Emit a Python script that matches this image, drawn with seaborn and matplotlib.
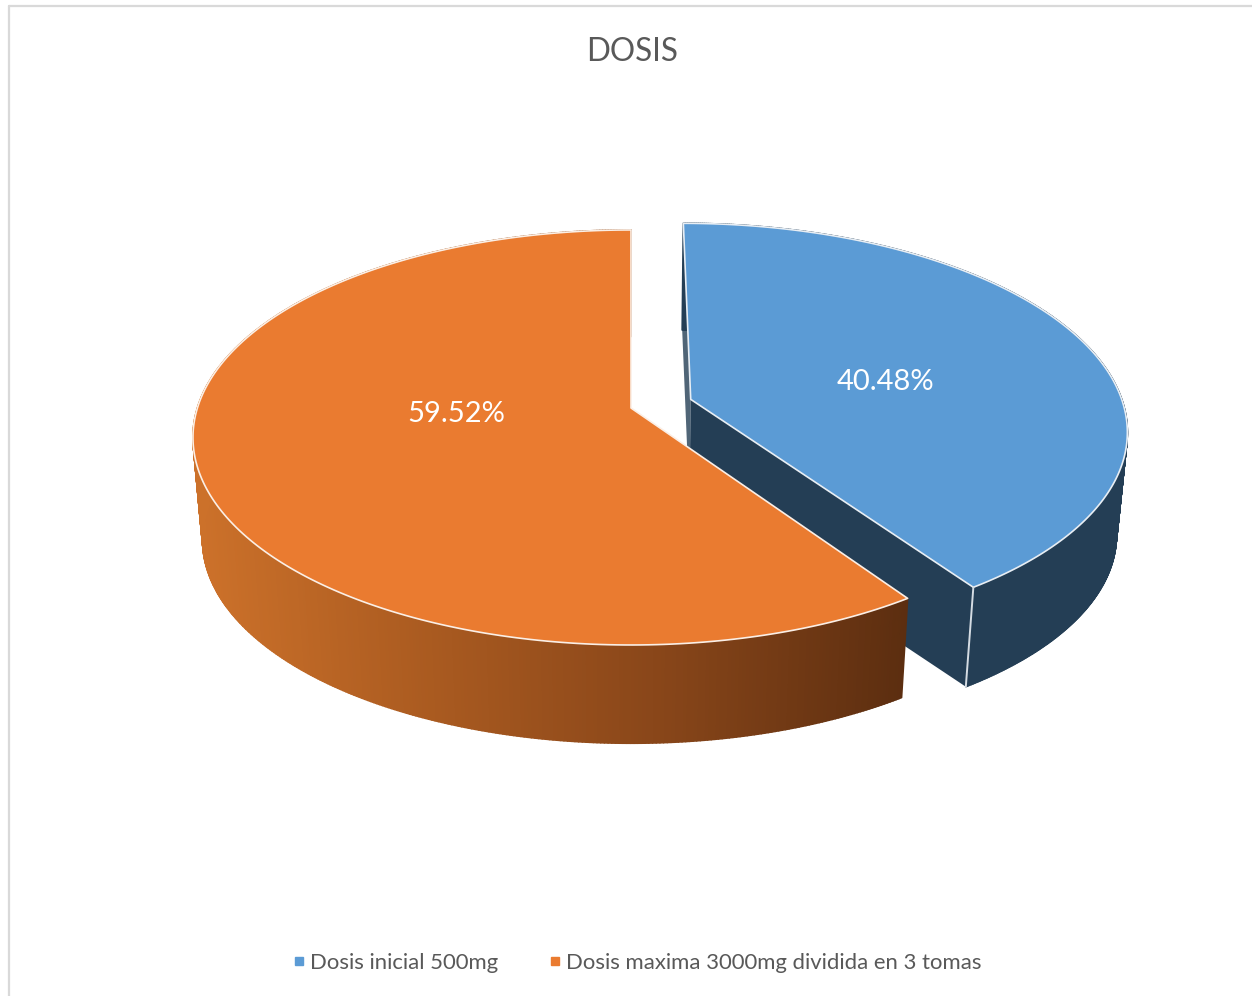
import numpy as np
import matplotlib
matplotlib.use("Agg")
import matplotlib.pyplot as plt
from matplotlib.collections import PolyCollection
from matplotlib.lines import Line2D
from matplotlib.patches import Polygon
import seaborn as sns

# Chart content
chart_title = "DOSIS"
categories = ["Dosis inicial 500mg", "Dosis maxima 3000mg dividida en 3 tomas"]
shares = [40.48, 59.52]
top_colors = ["#5B9BD5", "#EA7B30"]
wall_color = "#243E55"
wall_ramp = ["#CC712A", "#A95A20", "#874519", "#5C2E10"]

sns.set_theme(style="white")
plt.rcParams["font.family"] = ["Lato", "DejaVu Sans"]
TEXT = "#595959"

# Perspective disc: unit circle on the pie's plane -> canvas pixels
CX, CY = 631.0, 408.0
KX, KY, TILT = 433.6, 145.4, -0.142
BASE_SCALE_X, BASE_SCALE_Y, DEPTH = 0.978, 0.98, 103.0
EXPLODE = 0.145


def project(theta, r=1.0, dx=0.0, dy=0.0, base=False):
    """Map clockwise-from-top angles on the disc to canvas coordinates."""
    theta = np.atleast_1d(theta)
    px = r * np.sin(theta) + dx
    py = -r * np.cos(theta) + dy
    w = 1 + TILT * py
    x = KX * px / w
    y = (KY * py + CY) / w
    if base:
        return np.c_[CX + x * BASE_SCALE_X, CY + (y - CY) * BASE_SCALE_Y + DEPTH]
    return np.c_[CX + x, y]


def wedge(a0, a1, dx=0.0, dy=0.0, base=False):
    t = np.linspace(a0, a1, 240)
    apex = project(0.0, 0.0, dx, dy, base)
    return np.vstack([apex, project(t, 1.0, dx, dy, base)])


def band(a0, a1, dx=0.0, dy=0.0):
    t = np.linspace(a0, a1, 500)
    top = project(t, 1.0, dx, dy)
    low = project(t, 1.0, dx, dy, base=True)
    return [np.array([top[i], top[i + 1], low[i + 1], low[i]]) for i in range(len(t) - 1)]


def radial_wall(theta, dx, dy):
    return np.vstack([project(0.0, 0.0, dx, dy), project(theta, 1.0, dx, dy),
                      project(theta, 1.0, dx, dy, True), project(0.0, 0.0, dx, dy, True)])


fig = plt.figure(figsize=(12.52, 9.96), dpi=100, facecolor="white")
ax = fig.add_axes([0, 0, 1, 1])
ax.set_xlim(0, 1252)
ax.set_ylim(996, 0)
ax.axis("off")

# Outer chart frame (top and left edges only)
frame = "#D9D9D9"
ax.add_line(Line2D([8.5, 8.5], [5.5, 996], color=frame, lw=1.6))
ax.add_line(Line2D([8.5, 1252], [5.5, 5.5], color=frame, lw=1.6))

# Slice angles come straight from the shares
fractions = np.array(shares) / sum(shares)
split = 2 * np.pi * fractions[0]
mid = split / 2
dx, dy = EXPLODE * np.sin(mid), -EXPLODE * np.cos(mid)

# Detached blue slice: walls first, then its top
ax.add_patch(Polygon(radial_wall(0.0, dx, dy), fc=wall_color, ec="none", alpha=0.8, zorder=1))
ax.add_patch(Polygon(radial_wall(split, dx, dy), fc=wall_color, ec="none", zorder=1))
ax.add_collection(PolyCollection(band(0.0, split, dx, dy), facecolors=wall_color,
                                 edgecolors=wall_color, linewidths=1.2, zorder=2))
ax.add_patch(Polygon(wedge(0.0, split, dx, dy), fc=top_colors[0], ec="#E8EEF4", lw=1.2,
                     joinstyle="round", zorder=3))
tip_top = project(split, 1.0, dx, dy)[0]
tip_low = project(split, 1.0, dx, dy, True)[0]
ax.add_line(Line2D([tip_top[0], tip_low[0]], [tip_top[1], tip_low[1]], color="#D5DCE3", lw=1.4, zorder=4))

# Orange slice with a shaded outer wall
ramp = sns.blend_palette(wall_ramp, as_cmap=True)
quads = band(split, 2 * np.pi)
xs = np.array([q[:, 0].mean() for q in quads])
shade = ramp(np.clip((xs - 200.0) / 705.0, 0, 1))
ax.add_collection(PolyCollection(quads, facecolors=shade, edgecolors=shade, linewidths=1.2, zorder=5))
ax.add_patch(Polygon(wedge(split, 2 * np.pi), fc=top_colors[1], ec="#FBEFE6", lw=1.2,
                     joinstyle="round", zorder=6))
ax.set_xlim(0, 1252)
ax.set_ylim(996, 0)

# Percent labels on the slice tops
ax.text(885, 382, f"{shares[0]:.2f}%", color="white", fontsize=21, ha="center", va="center", zorder=8)
ax.text(456, 414, f"{shares[1]:.2f}%", color="white", fontsize=21, ha="center", va="center", zorder=8)

ax.text(632, 52, chart_title, color=TEXT, fontsize=22.7, ha="center", va="center")

handles = [Line2D([], [], ls="", marker="s", ms=5.5, color=c, label=l)
           for c, l in zip(top_colors, categories)]
ax.legend(handles=handles, ncol=2, frameon=False, fontsize=15.9, labelcolor=TEXT,
          loc="center left", bbox_to_anchor=(292 / 1252, 1 - 963 / 996), handlelength=0.6,
          handletextpad=0.22, columnspacing=2.26, borderpad=0, borderaxespad=0)

fig.savefig("out.png", dpi=100, facecolor="white")
